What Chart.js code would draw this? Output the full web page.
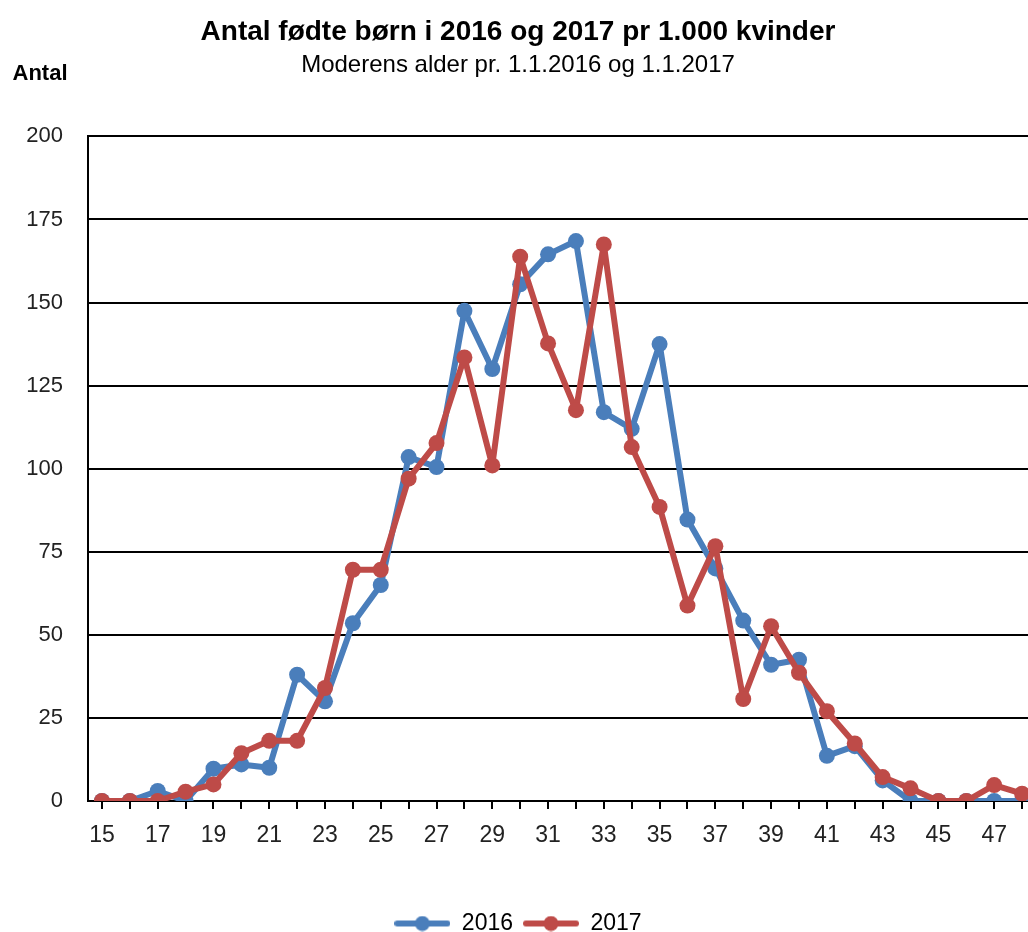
<!DOCTYPE html>
<html>
<head>
<meta charset="utf-8">
<script src="https://cdn.jsdelivr.net/npm/chart.js@4/dist/chart.umd.min.js"></script>
<style>
  html, body { margin: 0; padding: 0; background: #fff; overflow: hidden; }
  #wrap { width: 1050px; height: 945px; position: relative; }
</style>
</head>
<body>
<div id="wrap"><canvas id="myChart"></canvas></div>
<script>
// alder (moderens alder pr. 1.1.)
const ages = [15, 16, 17, 18, 19, 20, 21, 22, 23, 24, 25, 26, 27, 28, 29, 30, 31,
              32, 33, 34, 35, 36, 37, 38, 39, 40, 41, 42, 43, 44, 45, 46, 47, 48];

const born2016 = [0, 0, 3, 0, 9.7, 11, 10, 38, 30, 53.5, 65, 103.5, 100.5, 147.5, 130, 155.5, 164.5,
                  168.5, 117, 112, 137.5, 84.7, 70, 54.3, 41, 42.5, 13.6, 16.5, 6.2, 0, 0, 0, 0, 0];

const born2017 = [0, 0, 0, 2.8, 5, 14.4, 18.1, 18.1, 34, 69.6, 69.6, 97, 107.7, 133.5, 101, 163.8, 137.7,
                  117.6, 167.5, 106.5, 88.5, 58.8, 76.7, 30.7, 52.6, 38.6, 27, 17.3, 7.2, 3.8, 0, 0, 4.8, 2.2];

const yTicks = [0, 25, 50, 75, 100, 125, 150, 175, 200];

const blue = '#4A7EBB';
const red = '#BE4B48';
const font = '"Liberation Sans", Arial, sans-serif';

// legend marker: line with a dot in the middle
function legendMarker(color) {
    var c = document.createElement('canvas');
    c.width = 56;
    c.height = 16;
    var g = c.getContext('2d');
    g.strokeStyle = color;
    g.lineWidth = 6;
    g.lineCap = 'round';
    g.beginPath();
    g.moveTo(3, 8);
    g.lineTo(53, 8);
    g.stroke();
    g.fillStyle = color;
    g.beginPath();
    g.arc(28, 8, 7.5, 0, Math.PI * 2);
    g.fill();
    return c;
}
const markers = [legendMarker(blue), legendMarker(red)];

// "Antal" written above the y axis
const axisLabel = {
    id: 'axisLabel',
    afterDraw(chart) {
        var c = chart.ctx;
        c.save();
        c.font = 'bold 22px ' + font;
        c.fillStyle = '#000';
        c.textAlign = 'center';
        c.textBaseline = 'middle';
        c.fillText('Antal', 40, 74);
        c.restore();
    }
};

var ctx = document.getElementById("myChart").getContext("2d");

var myChart = new Chart(ctx, {
    type: 'line',
    data: {
        labels: ages,
        datasets: [{
            label: '2016',
            data: born2016,
            order: 1,
            borderColor: blue,
            backgroundColor: blue,
            borderWidth: 6,
            borderJoinStyle: 'round',
            pointRadius: 8,
            pointHoverRadius: 8,
            pointBorderWidth: 0,
            tension: 0
        }, {
            label: '2017',
            data: born2017,
            order: 0,
            borderColor: red,
            backgroundColor: red,
            borderWidth: 6,
            borderJoinStyle: 'round',
            pointRadius: 8,
            pointHoverRadius: 8,
            pointBorderWidth: 0,
            tension: 0
        }]
    },
    options: {
        responsive: true,
        maintainAspectRatio: false,
        animation: false,
        layout: {
            padding: { top: 0, left: 0, right: 14, bottom: 0 }
        },
        plugins: {
            title: {
                display: true,
                text: 'Antal fødte børn i 2016 og 2017 pr 1.000 kvinder',
                color: '#000',
                font: { family: font, size: 28, weight: 'bold' },
                padding: { top: 15, bottom: 2 }
            },
            subtitle: {
                display: true,
                text: 'Moderens alder pr. 1.1.2016 og 1.1.2017',
                color: '#000',
                font: { family: font, size: 24 },
                padding: { top: 0, bottom: 57 }
            },
            legend: {
                position: 'bottom',
                labels: {
                    color: '#000',
                    font: { family: font, size: 23 },
                    usePointStyle: true,
                    pointStyleWidth: 56,
                    padding: 10,
                    generateLabels(chart) {
                        return chart.data.datasets.map(function (ds, i) {
                            return {
                                text: ds.label,
                                pointStyle: markers[i],
                                fillStyle: ds.borderColor,
                                strokeStyle: ds.borderColor,
                                lineWidth: 0,
                                hidden: false,
                                datasetIndex: i
                            };
                        });
                    }
                }
            },
            tooltip: { enabled: false }
        },
        scales: {
            x: {
                offset: true,
                border: { color: '#000', width: 2 },
                grid: {
                    display: true,
                    drawOnChartArea: false,
                    drawTicks: true,
                    tickLength: 8,
                    color: '#000',
                    lineWidth: 2
                },
                ticks: {
                    autoSkip: false,
                    maxRotation: 0,
                    color: '#222',
                    padding: 13,
                    font: { family: font, size: 23 },
                    callback: function (val, index) {
                        return index % 2 === 0 ? this.getLabelForValue(val) : '';
                    }
                },
                afterFit: function (scale) { scale.height = 101; }
            },
            y: {
                min: 0,
                max: 200,
                border: { color: '#000', width: 2 },
                grid: {
                    color: '#000',
                    lineWidth: 2,
                    drawTicks: false
                },
                afterBuildTicks: function (scale) {
                    scale.ticks = yTicks.map(function (v) { return { value: v }; });
                },
                ticks: {
                    color: '#222',
                    padding: 25,
                    font: { family: font, size: 22 }
                },
                afterFit: function (scale) { scale.width = 88; }
            }
        }
    },
    plugins: [axisLabel]
});
</script>
</body>
</html>
